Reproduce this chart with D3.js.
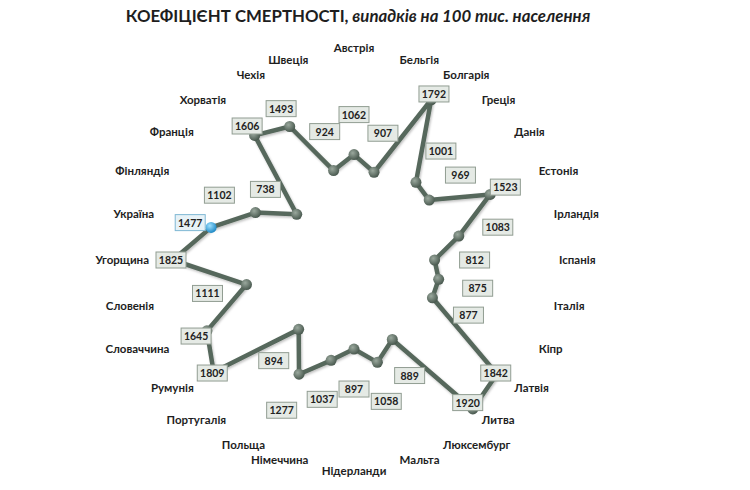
<!DOCTYPE html>
<html>
<head>
<meta charset="utf-8">
<script src="https://cdn.jsdelivr.net/npm/d3@7"></script>
<style>
  body { margin: 0; background: #fff; }
  svg { display: block; }
</style>
</head>
<body>
<svg id="chart"></svg>
<script>
// categories clockwise from the top
const categories = ['Австрія', 'Бельгія', 'Болгарія', 'Греція', 'Данія', 'Естонія', 'Ірландія',
  'Іспанія', 'Італія', 'Кіпр', 'Латвія', 'Литва', 'Люксембург', 'Мальта', 'Нідерланди',
  'Німеччина', 'Польща', 'Португалія', 'Румунія', 'Словаччина', 'Словенія', 'Угорщина',
  'Україна', 'Фінляндія', 'Франція', 'Хорватія', 'Чехія', 'Швеція'];

const values = [1062, 907, 1792, 1001, 969, 1523, 1083,
  812, 875, 877, 1842, 1920, 889, 1058, 897,
  1037, 1277, 894, 1809, 1645, 1111, 1825,
  1477, 1102, 738, 1606, 1493, 924];

const highlighted = ['Україна'];
const valueMax = 2000;

const titleMain = 'КОЕФІЦІЄНТ СМЕРТНОСТІ,';
const titleSub = ' випадків на 100 тис. населення';

class radarChart {
  constructor(_config, _data) {
    this.config = {
      parentElement: _config.parentElement,
      containerWidth: _config.containerWidth || 750,
      containerHeight: _config.containerHeight || 490,
      center: { x: 354, y: 260 },
      radius: 198.5,
      labelRadius: 205
    }
    this.data = _data;
    this.initVis();
  }

  initVis() {
    let vis = this;
    const font = 'Lato, "Open Sans", sans-serif';

    vis.svg = d3.select(vis.config.parentElement)
      .attr('width', vis.config.containerWidth)
      .attr('height', vis.config.containerHeight)
      .style('font-family', font);

    // gradients for the round markers
    const defs = vis.svg.append('defs');
    const grad = (id, c0, c1) => {
      const g = defs.append('radialGradient').attr('id', id)
        .attr('cx', '38%').attr('cy', '35%').attr('r', '70%');
      g.append('stop').attr('offset', '0%').attr('stop-color', c0);
      g.append('stop').attr('offset', '100%').attr('stop-color', c1);
    };
    grad('dotGrey', '#9aa89d', '#44544a');
    grad('dotBlue', '#9fe0ff', '#1784c2');

    const shadow = defs.append('filter').attr('id', 'shadow')
      .attr('x', '-10%').attr('y', '-10%').attr('width', '120%').attr('height', '120%');
    shadow.append('feDropShadow').attr('dx', 1).attr('dy', 1.5)
      .attr('stdDeviation', 1).attr('flood-color', '#000').attr('flood-opacity', 0.25);

    vis.chart = vis.svg.append('g')
      .attr('transform', `translate(${vis.config.center.x},${vis.config.center.y})`);

    vis.angle = d3.scalePoint()
      .domain(categories)
      .range([0, 2 * Math.PI * (categories.length - 1) / categories.length]);

    vis.rScale = d3.scaleLinear()
      .domain([0, valueMax])
      .range([0, vis.config.radius]);

    // title
    const title = vis.svg.append('text')
      .attr('x', 358)
      .attr('y', 22)
      .attr('text-anchor', 'middle')
      .attr('font-size', 16.8)
      .attr('font-weight', 'bold')
      .attr('fill', '#1e1e1e');
    title.append('tspan').text(titleMain);
    title.append('tspan').attr('font-style', 'italic').text(titleSub);

    vis.updateVis();
  }

  updateVis() {
    let vis = this;
    const pt = (d, r) => {
      const a = vis.angle(d.cat);
      return [r * Math.sin(a), -r * Math.cos(a)];
    };

    // category labels outside the plot
    vis.chart.selectAll('.cat')
      .data(vis.data)
      .join('text')
      .attr('class', 'cat')
      .attr('font-size', 11.5)
      .attr('font-weight', 'bold')
      .attr('fill', '#1e1e1e')
      .text(d => d.cat)
      .each(function(d) {
        const a = vis.angle(d.cat);
        const s = Math.sin(a), c = Math.cos(a);
        const [x, y] = pt(d, vis.config.labelRadius);
        const el = d3.select(this);
        if (Math.abs(s) < 0.05) {
          el.attr('text-anchor', 'middle').attr('x', x)
            .attr('y', c > 0 ? y - 3 : y + 10);
        } else {
          el.attr('text-anchor', s > 0 ? 'start' : 'end')
            .attr('x', x).attr('y', y + 4);
        }
      });

    // the series line
    const line = d3.lineRadial()
      .angle(d => vis.angle(d.cat))
      .radius(d => vis.rScale(d.value))
      .curve(d3.curveLinearClosed);

    vis.chart.append('path')
      .datum(vis.data)
      .attr('d', line)
      .attr('fill', 'none')
      .attr('stroke', '#57685c')
      .attr('stroke-width', 4.5)
      .attr('stroke-linejoin', 'round')
      .attr('filter', 'url(#shadow)');

    // markers
    vis.chart.selectAll('.dot')
      .data(vis.data)
      .join('circle')
      .attr('class', 'dot')
      .attr('cx', d => pt(d, vis.rScale(d.value))[0])
      .attr('cy', d => pt(d, vis.rScale(d.value))[1])
      .attr('r', 5.5)
      .attr('fill', d => highlighted.includes(d.cat) ? 'url(#dotBlue)' : 'url(#dotGrey)');

    // data labels in boxes
    const lab = vis.chart.selectAll('.lab')
      .data(vis.data)
      .join('g')
      .attr('class', 'lab')
      .attr('transform', d => {
        const a = vis.angle(d.cat);
        const r = vis.rScale(d.value);
        const ext = Math.abs(Math.sin(a)) * 15 + Math.abs(Math.cos(a)) * 8;
        const lr = Math.min(r + 40, Math.max(r + 12, 168), 198 - ext);
        const [x, y] = pt(d, lr);
        return `translate(${x},${y})`;
      });

    lab.append('rect')
      .attr('x', -15).attr('y', -8)
      .attr('width', 30).attr('height', 16)
      .attr('fill', d => highlighted.includes(d.cat) ? '#e7f2f7' : '#e5eae5')
      .attr('stroke', d => highlighted.includes(d.cat) ? '#7fb8d4' : '#919d92')
      .attr('stroke-width', 1);

    lab.append('text')
      .attr('text-anchor', 'middle')
      .attr('y', 4)
      .attr('font-size', 10.5)
      .attr('font-weight', 'bold')
      .attr('fill', '#222')
      .text(d => d.value);
  }
}

const data = categories.map((c, i) => ({ cat: c, value: values[i] }));
new radarChart({ parentElement: '#chart' }, data);
</script>
</body>
</html>
